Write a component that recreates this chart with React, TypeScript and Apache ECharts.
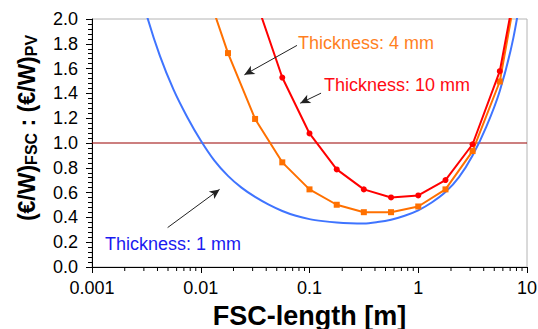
import React, { useEffect, useRef } from "react";
import * as echarts from "echarts";

// FSC length [m] (log axis)
const blueX = [
  0.00237, 0.00316, 0.00422, 0.00562, 0.0075, 0.01, 0.0133, 0.0178, 0.0237, 0.0316, 0.0422, 0.0562,
  0.075, 0.1, 0.133, 0.178, 0.237, 0.316, 0.422, 0.562, 0.75, 1, 1.33, 1.78, 2.37, 3.16, 4.22, 5.62, 7.5, 10,
];
const blueY = [
  2.45, 2.04, 1.7, 1.43, 1.21, 1.02, 0.86, 0.735, 0.64, 0.565, 0.503, 0.452,
  0.413, 0.386, 0.37, 0.359, 0.353, 0.351, 0.362, 0.381, 0.413, 0.457, 0.52, 0.604, 0.725, 0.9, 1.13, 1.42, 1.85, 2.5,
];

const orangeX = [0.01, 0.0178, 0.0316, 0.0562, 0.1, 0.178, 0.316, 0.562, 1, 1.78, 3.16, 5.62, 10];
const orangeY = [2.37, 1.725, 1.194, 0.844, 0.626, 0.502, 0.442, 0.442, 0.488, 0.626, 0.935, 1.496, 2.72];

const redX = [0.0316, 0.0562, 0.1, 0.178, 0.316, 0.562, 1, 1.78, 3.16, 5.62, 10];
const redY = [2.17, 1.528, 1.077, 0.787, 0.626, 0.561, 0.577, 0.701, 0.99, 1.579, 2.75];

const refX = [0.001, 10];
const refY = [1, 1];

const minorTickX = [
  0.002, 0.003, 0.004, 0.005, 0.006, 0.007, 0.008, 0.009,
  0.02, 0.03, 0.04, 0.05, 0.06, 0.07, 0.08, 0.09,
  0.2, 0.3, 0.4, 0.5, 0.6, 0.7, 0.8, 0.9,
  2, 3, 4, 5, 6, 7, 8, 9,
];

// arrows: [from, to] in data coordinates
const arrow4mm = [[0.0767, 1.787], [0.0252, 1.55]];
const arrow10mm = [[0.1277, 1.402], [0.0822, 1.321]];
const arrow1mm = [[0.00496, 0.318], [0.0149, 0.626]];

const labels = ["Thickness: 4 mm", "Thickness: 10 mm", "Thickness: 1 mm"];

const FONT = "Liberation Sans, Arial, sans-serif";

const zip = (xs: number[], ys: number[]) => xs.map((x, i) => [x, ys[i]]);

export default function App() {
  const ref = useRef<HTMLDivElement>(null);
  useEffect(() => {
    document.body.style.margin = "0";
    const chart = echarts.init(ref.current!, null, { renderer: "svg" });
    const arrowLine = (a: number[][]) => [
      { coord: a[0], symbol: "none" },
      { coord: a[1], symbol: "arrow" },
    ];
    chart.setOption({
      animation: false,
      backgroundColor: "#fff",
      grid: {
        left: 92,
        right: 11,
        top: 19,
        bottom: 62,
        outerBoundsMode: "none",
        containLabel: false,
        show: true,
        borderColor: "#b4b4b4",
        borderWidth: 1,
        backgroundColor: "#fff",
      },
      xAxis: {
        type: "log",
        logBase: 10,
        min: 0.001,
        max: 10,
        name: "FSC-length [m]",
        nameLocation: "middle",
        nameGap: 35,
        nameTextStyle: { fontFamily: FONT, fontWeight: "bold", fontSize: 27, color: "#000" },
        axisLine: { show: true, lineStyle: { color: "#000", width: 1 } },
        axisTick: { show: true, inside: false, length: 6, lineStyle: { color: "#000" } },
        minorTick: { show: false },
        splitLine: { show: false },
        axisLabel: {
          fontFamily: FONT,
          fontSize: 18,
          color: "#000",
          margin: 12,
          formatter: (v: number) => String(Number(v.toPrecision(6))),
        },
      },
      yAxis: {
        type: "value",
        min: 0,
        max: 2,
        interval: 0.2,
        axisLine: { show: true, lineStyle: { color: "#000", width: 1 } },
        axisTick: { show: true, inside: false, length: 6, lineStyle: { color: "#000" } },
        minorTick: { show: true, splitNumber: 5, length: 4, lineStyle: { color: "#000" } },
        splitLine: { show: false },
        axisLabel: {
          fontFamily: FONT,
          fontSize: 18,
          color: "#000",
          margin: 14,
          formatter: (v: number) => v.toFixed(1),
        },
      },
      graphic: [
        {
          type: "text",
          x: 27,
          y: 128,
          rotation: Math.PI / 2,
          style: {
            text: "{m|(€/W)}{s|FSC}{m| : (€/W)}{s|PV}",
            align: "center",
            verticalAlign: "middle",
            fill: "#000",
            rich: {
              m: { fontFamily: FONT, fontWeight: "bold", fontSize: 23, lineHeight: 26, fill: "#000" },
              s: { fontFamily: FONT, fontWeight: "bold", fontSize: 16, lineHeight: 26, padding: [9, 0, 0, 0], fill: "#000" },
            },
          },
        },
        {
          type: "text",
          x: 298,
          y: 43,
          style: { text: labels[0], fontFamily: FONT, fontSize: 18, fill: "#ff7f1f", verticalAlign: "middle" },
        },
        {
          type: "text",
          x: 324,
          y: 85,
          style: { text: labels[1], fontFamily: FONT, fontSize: 18, fill: "#ff0a14", verticalAlign: "middle" },
        },
        {
          type: "text",
          x: 105,
          y: 244,
          style: { text: labels[2], fontFamily: FONT, fontSize: 18, fill: "#1a1af0", verticalAlign: "middle" },
        },
      ],
      series: [
        {
          type: "line",
          data: zip(refX, refY),
          symbol: "none",
          lineStyle: { color: "#9a0000", width: 1.2 },
          silent: true,
          z: 1,
        },
        {
          type: "line",
          data: zip(blueX, blueY),
          symbol: "none",
          smooth: 0.3,
          lineStyle: { color: "#3f74ff", width: 2 },
          clip: true,
          z: 2,
        },
        {
          type: "line",
          data: zip(orangeX, orangeY),
          symbol: "rect",
          symbolSize: 6,
          itemStyle: { color: "#ff7000" },
          lineStyle: { color: "#ff7000", width: 2 },
          clip: true,
          z: 3,
        },
        {
          type: "line",
          data: zip(redX, redY),
          symbol: "circle",
          symbolSize: 6,
          itemStyle: { color: "#ff0000" },
          lineStyle: { color: "#ff0000", width: 2 },
          clip: true,
          z: 4,
          markLine: {
            silent: true,
            symbolSize: [7, 10],
            label: { show: false },
            lineStyle: { color: "#222", width: 1, type: "solid" },
            itemStyle: { color: "#000" },
            data: [arrowLine(arrow4mm), arrowLine(arrow10mm), arrowLine(arrow1mm)],
          },
        },
        {
          type: "custom",
          data: minorTickX.map((x) => [x, 0]),
          silent: true,
          clip: false,
          z: 5,
          renderItem: (params: any, api: any) => {
            const p = api.coord([api.value(0), 0]);
            return {
              type: "line",
              shape: { x1: p[0], y1: p[1], x2: p[0], y2: p[1] + 4 },
              style: { stroke: "#000", lineWidth: 1 },
            };
          },
        },
      ],
    });
    return () => chart.dispose();
  }, []);
  return <div ref={ref} style={{ width: 538, height: 329 }} />;
}
